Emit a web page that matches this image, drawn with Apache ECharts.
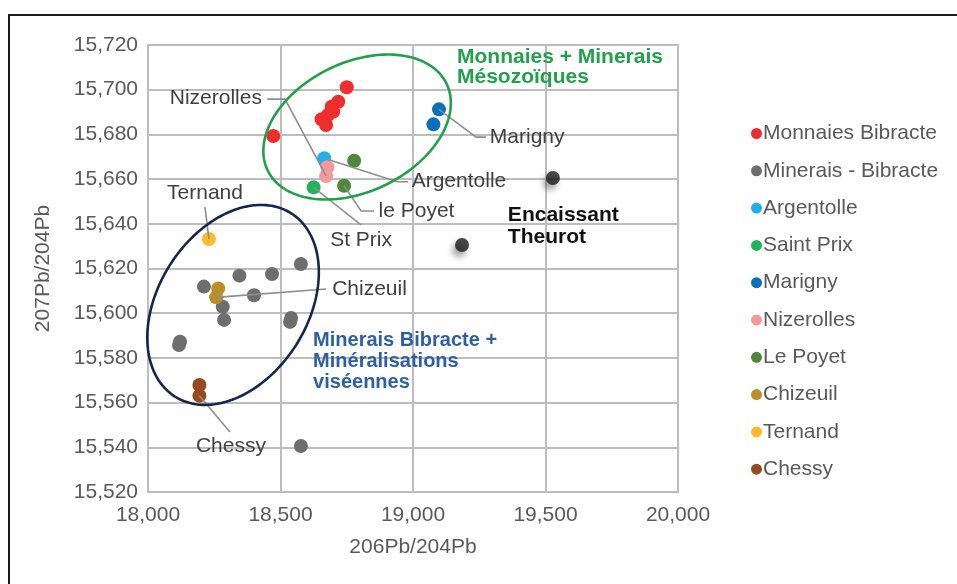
<!DOCTYPE html>
<html><head><meta charset="utf-8">
<script src="https://cdn.jsdelivr.net/npm/echarts@6/dist/echarts.min.js"></script>
<style>
html,body{margin:0;padding:0;background:#fff;overflow:hidden;}
#c{width:957px;height:584px;position:absolute;left:0;top:0;}
#frame{position:absolute;left:8px;top:14px;width:970px;height:600px;border-top:2px solid #1a1a1a;border-left:2px solid #1a1a1a;pointer-events:none;}
</style>
</head><body>
<div id="c"></div><div id="frame"></div>
<script>
// ---- data ----
const xTicks = [18000, 18500, 19000, 19500, 20000];
const yTicks = [15520, 15540, 15560, 15580, 15600, 15620, 15640, 15660, 15680, 15700, 15720];
const monnaiesBibracte = [[18750,15701.1],[18718,15694.6],[18693,15692.4],[18699,15690.2],[18679,15688.7],[18655,15686.8],[18672,15684.2],[18473,15679.3]];
const mineraisBibracte = [[18577,15622.0],[18345,15616.8],[18468,15617.5],[18211,15611.9],[18400,15608.0],[18282,15602.9],[18287,15597.0],[18540,15597.9],[18536,15596.1],[18121,15587.2],[18117,15585.8],[18577,15540.6]];
const argentolle = [[18665,15669.3]];
const saintPrix = [[18625,15656.3]];
const marigny = [[19098,15691.2],[19077,15684.5]];
const nizerolles = [[18677,15665.3],[18672,15661.4]];
const lePoyet = [[18778,15668.2],[18740,15657.0]];
const chizeuil = [[18265,15611.1],[18257,15607.1]];
const ternand = [[18230,15633.2]];
const chessy = [[18194,15567.9],[18194,15563.1]];
const encaissantTheurot = [[19528,15660.5],[19185,15630.5]];

const seriesNames = ['Monnaies Bibracte','Minerais - Bibracte','Argentolle','Saint Prix','Marigny','Nizerolles','Le Poyet','Chizeuil','Ternand','Chessy'];
const seriesData = [monnaiesBibracte, mineraisBibracte, argentolle, saintPrix, marigny, nizerolles, lePoyet, chizeuil, ternand, chessy];
const seriesColors = ['#ee2d2d','#6e6e6e','#1eb1e9','#22b35b','#0b6fbb','#f4999b','#4f873b','#bb8e2a','#fdbb2b','#964a1d'];

// annotation labels (data coords)
const labelTexts = ['Nizerolles','Marigny','Argentolle','le Poyet','St Prix','Ternand','Chizeuil','Chessy'];
const labelPos = [[18430,15696.3],[19290,15678.8],[18995,15659.0],[18870,15645.7],[18804,15632.8],[18215,15653.8],[18695,15610.8],[18313,15540.6]];
const labelAlign = ['right','left','left','left','center','center','left','center'];
const leaderLines = [
  [[18450,15695.8],[18517,15695.8],[18672,15661.4]],
  [[19098,15691.2],[19238,15678.8],[19275,15678.8]],
  [[18665,15669.3],[18940,15658.8],[18981,15658.8]],
  [[18740,15657.0],[18804,15645.7],[18853,15645.7]],
  [[18625,15656.3],[18804,15639.5]],
  [[18215,15647.5],[18230,15633.2]],
  [[18257,15607.1],[18672,15610.8]],
  [[18194,15563.1],[18309,15546.8]]
];
const groupTexts = ['Monnaies + Minerais\nMésozoïques','Minerais Bibracte +\nMinéralisations\nviséennes','Encaissant\nTheurot'];
const groupPos = [[19166,15718.8],[18623,15592.5],[19358,15648.9]];
const groupColors = ['#22a04b','#2c5fa4','#111111'];
const groupSizes = [21,20,21];
const groupLineHeights = [20,21,22];
// ellipses: center (data), semi-axes px, rotation deg
const ellipseCenters = [[18789,15683.3],[18321,15603.7]];
const ellipseAxes = [[99.4,64.5],[108.5,74.7]];
const ellipseRot = [25.9,57.6];
const ellipseColors = ['#22a04b','#15254f'];

const FONT = '"Liberation Sans", Arial, Helvetica, sans-serif';
const FS = 21;
const chart = echarts.init(document.getElementById('c'), null, {renderer:'canvas'});

const series = seriesNames.map((n,i)=>({
  name:n, type:'scatter', data:seriesData[i], symbolSize:14,
  itemStyle:{color:seriesColors[i], opacity:1}, z:3
}));
series.push({
  name:'Encaissant Theurot', type:'scatter', data:encaissantTheurot, symbolSize:14,
  itemStyle:{color:'#1a1a1a', shadowBlur:6, shadowOffsetX:-3, shadowOffsetY:5, shadowColor:'rgba(0,0,0,0.45)'}, z:3
});

chart.setOption({
  backgroundColor:'transparent',
  animation:false,
  grid:{left:148, right:279, top:45, bottom:92, show:true, borderColor:'#bdbdbd', borderWidth:2, backgroundColor:'transparent'},
  xAxis:{type:'value', min:xTicks[0], max:xTicks[xTicks.length-1], interval:500,
    name:'206Pb/204Pb', nameLocation:'middle', nameGap:45,
    nameTextStyle:{fontSize:FS, color:'#595959', fontFamily:FONT},
    axisLine:{show:false}, axisTick:{show:false},
    axisLabel:{fontSize:FS, color:'#595959', fontFamily:FONT, margin:13},
    splitLine:{show:true, lineStyle:{color:'#bdbdbd', width:2}}},
  yAxis:{type:'value', min:yTicks[0], max:yTicks[yTicks.length-1], interval:20,
    name:'207Pb/204Pb', nameLocation:'middle', nameGap:94, nameRotate:90,
    nameTextStyle:{fontSize:FS, color:'#595959', fontFamily:FONT},
    axisLine:{show:false}, axisTick:{show:false},
    axisLabel:{fontSize:FS, color:'#595959', fontFamily:FONT, margin:10},
    splitLine:{show:true, lineStyle:{color:'#bdbdbd', width:2}}},
  legend:{data:seriesNames, orient:'vertical', left:746, top:118, icon:'circle', itemWidth:11, itemHeight:11, itemGap:16.3,
    textStyle:{fontSize:FS, color:'#595959', fontFamily:FONT, lineHeight:20, padding:[0,0,0,-4]}},
  series:series
});

function px(p){ return chart.convertToPixel({gridIndex:0}, p); }
const g = [];
ellipseCenters.forEach((c,i)=>{
  const cp = px(c); const a=ellipseAxes[i][0], b=ellipseAxes[i][1]; const th=ellipseRot[i]*Math.PI/180;
  const pts=[];
  for(let k=0;k<180;k++){ const t=k/180*2*Math.PI;
    pts.push([cp[0]+a*Math.cos(t)*Math.cos(th)-b*Math.sin(t)*Math.sin(th), cp[1]-(a*Math.cos(t)*Math.sin(th)+b*Math.sin(t)*Math.cos(th))]); }
  g.push({type:'polygon', shape:{points:pts}, style:{fill:'none', stroke:ellipseColors[i], lineWidth:2.6}, z:10, silent:true});
});
leaderLines.forEach(l=>{
  g.push({type:'polyline', shape:{points:l.map(px)}, style:{fill:'none', stroke:'#8e8e8e', lineWidth:1.6}, z:9, silent:true});
});
labelTexts.forEach((t,i)=>{
  const p=px(labelPos[i]);
  g.push({type:'text', x:p[0], y:p[1], style:{text:t, fill:'#404040', font:FS+'px '+FONT, textAlign:labelAlign[i], textVerticalAlign:'middle'}, z:11, silent:true});
});
groupTexts.forEach((t,i)=>{
  const p=px(groupPos[i]);
  g.push({type:'text', x:p[0], y:p[1], style:{text:t, fill:groupColors[i], font:'bold '+groupSizes[i]+'px '+FONT, lineHeight:groupLineHeights[i], textAlign:'left', textVerticalAlign:'top'}, z:11, silent:true});
});
chart.setOption({graphic:{elements:g}});
</script>
</body></html>
